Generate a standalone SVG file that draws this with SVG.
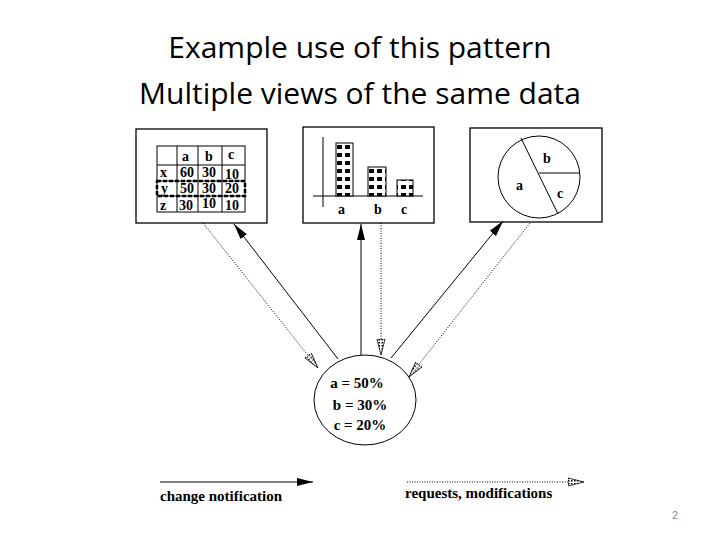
<svg xmlns="http://www.w3.org/2000/svg" width="720" height="540" viewBox="0 0 720 540">
<style>
.t{font-family:"Liberation Serif",serif;font-weight:bold;font-size:14px;fill:#000}
.l{font-size:15px}
.box{fill:#fff;stroke:#000;stroke-width:1.3}
.sol{stroke:#000;stroke-width:1;fill:none}
.dot{stroke:#000;stroke-width:1;stroke-dasharray:1 1.5;fill:none}
.title{font-family:"Open Sans","Liberation Sans",sans-serif;font-size:30px;fill:#000;text-anchor:middle}
</style>
<defs>
<pattern id="hatch" width="3" height="3" patternUnits="userSpaceOnUse"><rect width="3" height="3" fill="#fff"/><rect width="1.5" height="1.5" fill="#000"/></pattern>
<pattern id="bar" width="8" height="8" patternUnits="userSpaceOnUse"><rect width="8" height="8" fill="#fff"/><rect x="1" y="1" width="5" height="4" fill="#000"/></pattern>
<marker id="ms" viewBox="0 0 16 10" refX="16" refY="5" markerWidth="16" markerHeight="10" markerUnits="userSpaceOnUse" orient="auto"><path d="M0,1 L16,5 L0,9 Z" fill="#000"/></marker>
<marker id="md" viewBox="0 0 16 10" refX="16" refY="5" markerWidth="16" markerHeight="10" markerUnits="userSpaceOnUse" orient="auto"><path d="M0,1 L16,5 L0,9 Z" fill="url(#hatch)" stroke="#000" stroke-width="0.8"/></marker>
</defs>
<rect width="720" height="540" fill="#fff"/>
<text class="title" x="360" y="58">Example use of this pattern</text>
<text class="title" x="360" y="104">Multiple views of the same data</text>

<g id="table-view">
<rect class="box" x="136" y="129" width="131" height="94"/>
<g class="sol">
<rect x="157" y="146" width="88" height="66"/>
<line x1="157" y1="165" x2="245" y2="165"/><line x1="157" y1="181" x2="245" y2="181"/><line x1="157" y1="196" x2="245" y2="196"/>
<line x1="177" y1="146" x2="177" y2="212"/><line x1="198" y1="146" x2="198" y2="212"/><line x1="222" y1="146" x2="222" y2="212"/>
</g>
<rect x="157" y="181" width="88" height="15" fill="none" stroke="#000" stroke-width="2.5" stroke-dasharray="4 2"/>
<text class="t" x="182" y="161">a</text><text class="t" x="205" y="161">b</text><text class="t" x="228" y="159">c</text>
<text class="t" x="160" y="177">x</text><text class="t" x="180" y="177">60</text><text class="t" x="202" y="177">30</text><text class="t" x="225" y="179">10</text>
<text class="t" x="161" y="193">y</text><text class="t" x="180" y="193">50</text><text class="t" x="202" y="193">30</text><text class="t" x="225" y="193">20</text>
<text class="t" x="160" y="210">z</text><text class="t" x="179" y="210">30</text><text class="t" x="202" y="208">10</text><text class="t" x="225" y="210">10</text>
</g>

<g id="bar-view">
<rect class="box" x="303" y="127" width="131" height="96"/>
<line class="sol" x1="323" y1="137" x2="323" y2="207"/>
<line class="sol" x1="313" y1="196" x2="423" y2="196"/>
<rect x="336" y="143" width="17" height="53" fill="url(#bar)" stroke="#000"/>
<rect x="368" y="167" width="18" height="29" fill="url(#bar)" stroke="#000"/>
<rect x="397" y="180" width="16" height="16" fill="url(#bar)" stroke="#000"/>
<text class="t" x="338" y="214">a</text><text class="t" x="374" y="214">b</text><text class="t" x="401" y="214">c</text>
</g>

<g id="pie-view">
<rect class="box" x="470" y="128" width="132" height="94"/>
<circle class="sol" cx="539" cy="177" r="41"/>
<line class="sol" x1="521" y1="138" x2="558" y2="214"/>
<line class="sol" x1="539" y1="173" x2="580" y2="173"/>
<text class="t" x="543" y="163">b</text><text class="t" x="516" y="190">a</text><text class="t" x="557" y="198">c</text>
</g>

<g id="data">
<ellipse class="sol" cx="365" cy="400" rx="51" ry="45"/>
<text class="t l" x="357" y="388" text-anchor="middle">a = 50%</text>
<text class="t l" x="360" y="410" text-anchor="middle">b = 30%</text>
<text class="t l" x="360" y="430" text-anchor="middle">c = 20%</text>
</g>

<g id="connectors">
<line class="dot" x1="203" y1="223" x2="318" y2="368" marker-end="url(#md)"/>
<line class="sol" x1="338" y1="359" x2="234" y2="224" marker-end="url(#ms)"/>
<line class="sol" x1="361" y1="355" x2="361" y2="224" marker-end="url(#ms)"/>
<line class="dot" x1="381" y1="223" x2="381" y2="355" marker-end="url(#md)"/>
<line class="sol" x1="391" y1="358" x2="503" y2="221" marker-end="url(#ms)"/>
<line class="dot" x1="530" y1="223" x2="409" y2="377" marker-end="url(#md)"/>
<line class="sol" x1="160" y1="482" x2="313" y2="482" marker-end="url(#ms)"/>
<line class="dot" x1="407" y1="482" x2="584" y2="482" marker-end="url(#md)"/>
</g>
<text class="t l" x="160" y="501">change notification</text>
<text class="t l" x="405" y="498">requests, modifications</text>
<text x="672" y="519" font-family="Liberation Sans,sans-serif" font-size="11" fill="#888">2</text>
</svg>
